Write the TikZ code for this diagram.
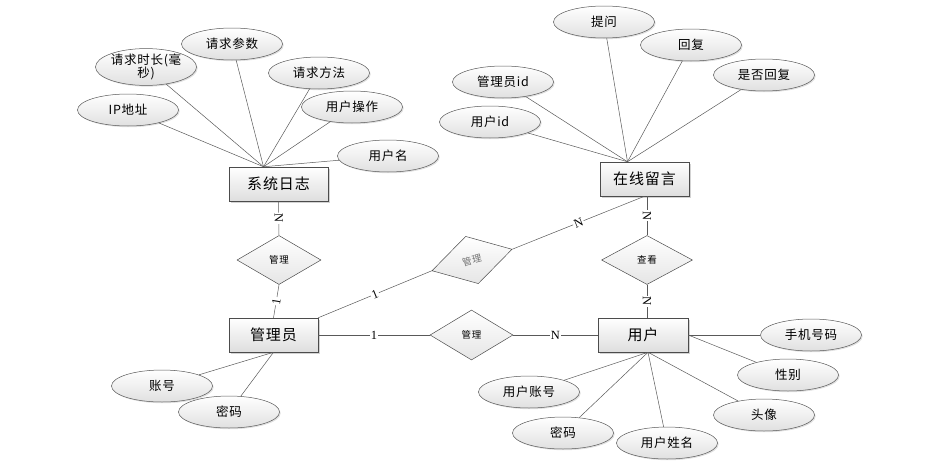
\documentclass[tikz,border=0pt]{standalone}
\usepackage{fontspec}
\setmainfont{Noto Sans CJK SC}[LetterSpace=6]
\newfontfamily\cardfont{Liberation Serif}
\usetikzlibrary{shapes.geometric,shadows,calc}

\begin{document}
\begin{tikzpicture}[
    x = 1pt, y = -1pt, line width = 0.5pt,
    ent/.style  ={rectangle, draw = black!70, top color = white, bottom color = black!13,
                  drop shadow = {shadow xshift = 1.5pt, shadow yshift = -1.5pt, opacity = .35},
                  minimum height = 34pt, inner sep = 0pt, font = \fontsize{15}{17}\selectfont},
    attr/.style ={ellipse, draw = black!65, top color = white, bottom color = black!12,
                  drop shadow = {shadow xshift = 1.2pt, shadow yshift = -1.2pt, opacity = .25},
                  minimum width = 101pt, minimum height = 32pt, inner sep = 0pt,
                  font = \fontsize{12.5}{16}\selectfont},
    rel/.style  ={diamond, draw = black!70, top color = white, bottom color = black!10,
                  minimum width = 84pt, minimum height = 49pt, inner sep = 0pt,
                  font = \fontsize{9.5}{11}\selectfont},
    card/.style ={fill = white, inner sep = 1pt, font = \cardfont\fontsize{12.5}{13}\selectfont},
    link/.style ={draw = black!65}
    ]

\useasboundingbox (0, 0) rectangle (939, 466);

% entities
\node (log)   at (278.5, 184) [ent, minimum width = 99pt]{系统日志};
\node (msg)   at (644.5, 179) [ent, minimum width = 89pt]{在线留言};
\node (admin) at (273.5, 335) [ent, minimum width = 89pt]{管理员};
\node (user)  at (643, 335)   [ent, minimum width = 90pt]{用户};

% relations
\node (mlog)  at (279, 260)   [rel]{管理};
\node (mmsg)  at (472, 260)   [rel, rotate = 15, minimum width = 83pt, text = black!55]{管理};
\node (muser) at (471.5, 335) [rel, minimum width = 83pt, minimum height = 50pt]{管理};
\node (chk)   at (647, 260)   [rel, minimum width = 91pt]{查看};

% attributes of 系统日志
\node (dur)   at (146, 67)  [attr, align = center]{请求时长(毫\\[-3pt]秒)};
\node (par)   at (232, 44)  [attr]{请求参数};
\node (meth)  at (319, 73)  [attr]{请求方法};
\node (ip)    at (128, 110) [attr]{IP地址};
\node (op)    at (352, 107) [attr]{用户操作};
\node (uname) at (388, 156) [attr]{用户名};

% attributes of 在线留言
\node (ask)   at (604, 22)  [attr]{提问};
\node (reply) at (691, 45)  [attr]{回复};
\node (isrep) at (764, 75)  [attr]{是否回复};
\node (aid)   at (503, 82)  [attr]{管理员id};
\node (uid)   at (490, 122) [attr]{用户id};

% attributes of 管理员
\node (acc)   at (162, 386) [attr]{账号};
\node (apw)   at (229, 412) [attr]{密码};

% attributes of 用户
\node (phone) at (811, 335) [attr]{手机号码};
\node (sex)   at (788, 375) [attr]{性别};
\node (uacc)  at (529, 392) [attr]{用户账号};
\node (upw)   at (563, 433) [attr]{密码};
\node (real)  at (667, 443) [attr]{用户姓名};
\node (head)  at (764, 415) [attr]{头像};

\coordinate (logtop) at ($(log.north) + (-15, 0)$);
\coordinate (msgtop) at ($(msg.north) + (-17, 0)$);
\coordinate (userbot) at ($(user.south) + (5, 0)$);

\foreach \a in {ip, dur, par, meth, op, uname}{
    \draw [link] (logtop) -- (\a);
    }
\foreach \a in {ask, reply, isrep, aid, uid}{
    \draw [link] (msgtop) -- (\a);
    }
\foreach \a in {acc, apw}{
    \draw [link] (admin.south) -- (\a);
    }
\foreach \a in {uacc, upw, real, head}{
    \draw [link] (userbot) -- (\a);
    }
\draw [link] (user.east) -- (phone);
\draw [link] (user.east) -- (sex);

% connectors with cardinality
\draw [link] (log.south) -- (mlog.north) node [card, midway, sloped]{N};
\draw [link] (mlog.south) -- (admin.north) node [card, midway, sloped]{1};
\draw [link] (admin.north east) -- (mmsg.west) node [card, midway, sloped]{1};
\draw [link] (mmsg.east) -- (msg.south) node [card, midway, sloped]{N};
\draw [link] (admin.east) -- (muser.west) node [card, midway]{1};
\draw [link] (muser.east) -- (user.west) node [card, midway]{N};
\draw [link] (chk |- msg.south) -- (chk.north) node [card, midway, sloped]{N};
\draw [link] (chk.south) -- (chk |- user.north) node [card, midway, sloped]{N};
\end{tikzpicture}
\end{document}
